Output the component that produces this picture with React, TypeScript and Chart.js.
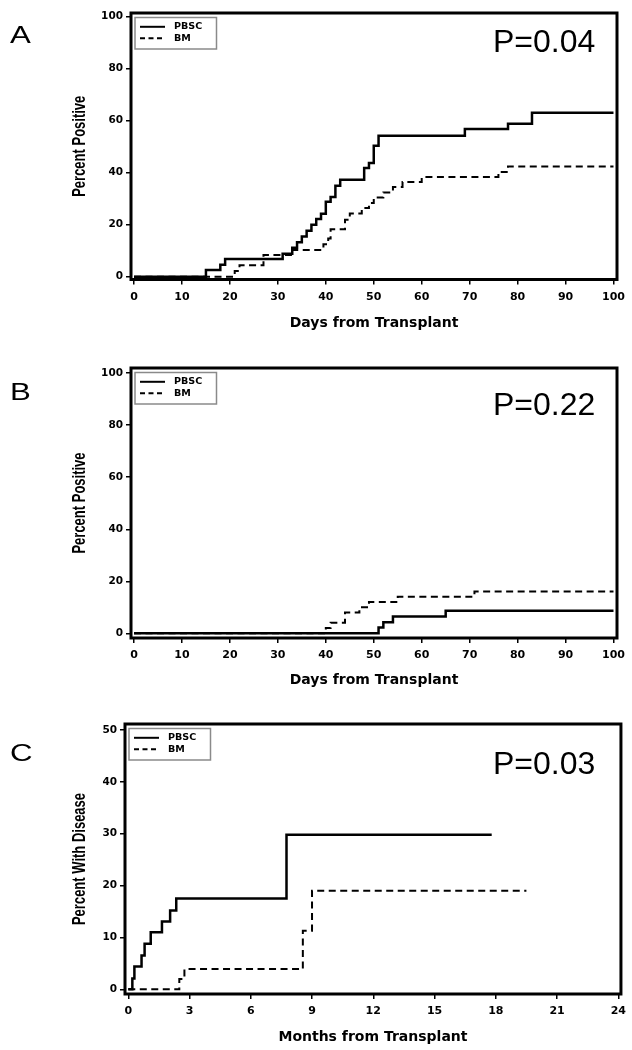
import React, { useEffect, useRef } from "react";
import { Chart, registerables } from "chart.js";

Chart.register(...registerables);

// ---------- Data ----------
// Panel A
const aPbscDays = [0, 15, 18, 19, 31, 33, 34, 35, 36, 37, 38, 39, 40, 41, 42, 43, 48, 49, 50, 51, 69, 78, 83, 100];
const aPbscPct = [0, 2.6, 4.6, 6.8, 8.8, 11.1, 13.2, 15.5, 17.7, 20, 22.2, 24.2, 28.8, 30.6, 35, 37.3, 41.8, 43.7, 50.4, 54.2, 56.8, 58.8, 63, 63];
const aBmDays = [0, 21, 22, 27, 33, 39.5, 40.5, 41, 44, 45, 47.5, 49, 50, 52, 54, 56, 60, 76, 78, 100];
const aBmPct = [0, 2.2, 4.4, 8.3, 10.3, 12.5, 14.7, 18.2, 21.9, 24.3, 26.4, 28.3, 30.5, 32.4, 34.5, 36.4, 38.3, 40.3, 42.4, 42.4];

// Panel B
const bPbscDays = [0, 51, 52, 54, 65, 100];
const bPbscPct = [0, 2.2, 4.3, 6.5, 8.7, 8.7];
const bBmDays = [0, 40, 41, 44, 47, 49, 55, 71, 100];
const bBmPct = [0, 2.0, 4.1, 8.0, 10.0, 12.0, 14.1, 16.1, 16.1];

// Panel C
const cPbscMonths = [0, 0.2, 0.3, 0.65, 0.8, 1.1, 1.65, 2.05, 2.35, 7.75, 17.8];
const cPbscPct = [0, 2.1, 4.4, 6.5, 8.8, 11.0, 13.1, 15.2, 17.5, 29.8, 29.8];
const cBmMonths = [0, 2.5, 2.75, 8.55, 9.0, 19.5];
const cBmPct = [0, 2.0, 3.9, 11.3, 19.0, 19.0];

// Tick labels
const dayTicks = [0, 10, 20, 30, 40, 50, 60, 70, 80, 90, 100];
const monthTicks = [0, 3, 6, 9, 12, 15, 18, 21, 24];
const pct100Ticks = [0, 20, 40, 60, 80, 100];
const pct50Ticks = [0, 10, 20, 30, 40, 50];

const seriesNames = ["PBSC", "BM"];

// ---------- Layout ----------
const W = 632;

type PanelDef = {
  letter: string;
  pLabel: string;
  top: number;
  height: number;
  area: { left: number; right: number; top: number; bottom: number };
  xMin: number;
  xMax: number;
  yMin: number;
  yMax: number;
  xTicks: number[];
  yTicks: number[];
  xTitle: string;
  yTitle: string;
  xTitleY: number;
  yTitleX: number;
  letterY: number;
  pY: number;
  pbsc: [number[], number[]];
  bm: [number[], number[]];
};

const panels: PanelDef[] = [
  {
    letter: "A",
    pLabel: "P=0.04",
    top: 0,
    height: 345,
    area: { left: 131, right: 617, top: 13, bottom: 279.5 },
    xMin: -0.63,
    xMax: 100.73,
    yMin: -1.08,
    yMax: 101.4,
    xTicks: dayTicks,
    yTicks: pct100Ticks,
    xTitle: "Days from Transplant",
    yTitle: "Percent Positive",
    xTitleY: 323,
    yTitleX: 80,
    letterY: 42.5,
    pY: 52,
    pbsc: [aPbscDays, aPbscPct],
    bm: [aBmDays, aBmPct],
  },
  {
    letter: "B",
    pLabel: "P=0.22",
    top: 355,
    height: 345,
    area: { left: 131, right: 617, top: 368, bottom: 638 },
    xMin: -0.63,
    xMax: 100.73,
    yMin: -1.8,
    yMax: 102,
    xTicks: dayTicks,
    yTicks: pct100Ticks,
    xTitle: "Days from Transplant",
    yTitle: "Percent Positive",
    xTitleY: 680,
    yTitleX: 80,
    letterY: 400,
    pY: 415,
    pbsc: [bPbscDays, bPbscPct],
    bm: [bBmDays, bBmPct],
  },
  {
    letter: "C",
    pLabel: "P=0.03",
    top: 711,
    height: 339,
    area: { left: 125, right: 621, top: 724, bottom: 994 },
    xMin: -0.16,
    xMax: 24.13,
    yMin: -0.9,
    yMax: 51.16,
    xTicks: monthTicks,
    yTicks: pct50Ticks,
    xTitle: "Months from Transplant",
    yTitle: "Percent With Disease",
    xTitleY: 1037,
    yTitleX: 80,
    letterY: 761,
    pY: 773.5,
    pbsc: [cPbscMonths, cPbscPct],
    bm: [cBmMonths, cBmPct],
  },
];

function toPoints(xs: number[], ys: number[]) {
  return xs.map((x, i) => ({ x, y: ys[i] }));
}

function drawStretched(
  ctx: CanvasRenderingContext2D,
  text: string,
  x: number,
  y: number,
  font: string,
  sx: number,
  align: CanvasTextAlign,
  baseline: CanvasTextBaseline
) {
  ctx.save();
  ctx.translate(x, y);
  ctx.scale(sx, 1);
  ctx.font = font;
  ctx.fillStyle = "#000";
  ctx.textAlign = align;
  ctx.textBaseline = baseline;
  ctx.fillText(text, 0, 0);
  ctx.restore();
}

function PanelChart({ def }: { def: PanelDef }) {
  const ref = useRef<HTMLCanvasElement | null>(null);

  useEffect(() => {
    const canvas = ref.current;
    if (!canvas) return;
    const t0 = def.top;
    const areaTop = def.area.top - t0;
    const areaBottom = def.area.bottom - t0;

    const decor = {
      id: "decor" + def.letter,
      afterDraw(chart: any) {
        const ctx: CanvasRenderingContext2D = chart.ctx;
        const ca = chart.chartArea;
        ctx.save();
        // frame
        ctx.strokeStyle = "#000";
        ctx.lineWidth = 3;
        ctx.setLineDash([]);
        ctx.strokeRect(ca.left, ca.top, ca.right - ca.left, ca.bottom - ca.top);

        // legend box
        const bx = ca.left + 4;
        const by = ca.top + 4.5;
        const bw = 81.5;
        const bh = 31.5;
        ctx.fillStyle = "#fff";
        ctx.fillRect(bx, by, bw, bh);
        ctx.strokeStyle = "#8a8a8a";
        ctx.lineWidth = 1.5;
        ctx.strokeRect(bx, by, bw, bh);
        const rows = [by + 9.3, by + 20.8];
        const dashes = [[], [5, 3.5]];
        rows.forEach((ry, i) => {
          ctx.beginPath();
          ctx.strokeStyle = "#000";
          ctx.lineWidth = 2;
          ctx.setLineDash(dashes[i] as number[]);
          ctx.moveTo(bx + 5, ry);
          ctx.lineTo(bx + 30, ry);
          ctx.stroke();
          ctx.setLineDash([]);
          drawStretched(ctx, seriesNames[i], bx + 39, ry + 0.5, "bold 8px 'DejaVu Sans'", 1.2, "left", "middle");
        });

        // axis titles
        drawStretched(
          ctx,
          def.xTitle,
          (ca.left + ca.right) / 2,
          def.xTitleY - t0,
          "bold 14px 'DejaVu Sans'",
          1,
          "center",
          "middle"
        );
        ctx.save();
        ctx.translate(def.yTitleX, (ca.top + ca.bottom) / 2);
        ctx.rotate(-Math.PI / 2);
        ctx.scale(1, 1.35);
        ctx.font = "bold 13px 'Liberation Sans', Arial, sans-serif";
        ctx.fillStyle = "#000";
        ctx.textAlign = "center";
        ctx.textBaseline = "middle";
        ctx.fillText(def.yTitle, 0, 0);
        ctx.restore();

        // panel letter
        drawStretched(ctx, def.letter, 10, def.letterY - t0, "24px 'Liberation Sans', Arial, sans-serif", 1.3, "left", "alphabetic");
        // p-value
        drawStretched(ctx, def.pLabel, 493, def.pY - t0, "32px 'Liberation Sans', Arial, sans-serif", 1, "left", "alphabetic");
        ctx.restore();
      },
    };

    const chart = new Chart(canvas, {
      type: "line",
      data: {
        datasets: [
          {
            label: seriesNames[0],
            data: toPoints(def.pbsc[0], def.pbsc[1]),
            borderColor: "#000",
            borderWidth: 2.5,
            stepped: true,
            pointRadius: 0,
            fill: false,
          },
          {
            label: seriesNames[1],
            data: toPoints(def.bm[0], def.bm[1]),
            borderColor: "#000",
            borderWidth: 2,
            borderDash: [7, 4.5],
            stepped: true,
            pointRadius: 0,
            fill: false,
          },
        ],
      },
      options: {
        responsive: false,
        animation: false,
        devicePixelRatio: 1,
        layout: {
          padding: { top: areaTop, right: W - def.area.right, left: 0, bottom: 0 },
        },
        plugins: {
          legend: { display: false },
          tooltip: { enabled: false },
        },
        scales: {
          x: {
            type: "linear",
            min: def.xMin,
            max: def.xMax,
            afterBuildTicks: (s: any) => {
              s.ticks = def.xTicks.map((v) => ({ value: v }));
            },
            afterFit: (s: any) => {
              s.height = def.height - areaBottom;
            },
            ticks: {
              autoSkip: false,
              maxRotation: 0,
              padding: 6,
              color: "#000",
              font: { family: "'DejaVu Sans'", weight: "bold", size: 11 },
            },
            grid: {
              drawOnChartArea: false,
              drawTicks: true,
              tickLength: 5,
              color: "#000",
              lineWidth: 1.5,
            },
            border: { display: false },
          },
          y: {
            type: "linear",
            min: def.yMin,
            max: def.yMax,
            afterBuildTicks: (s: any) => {
              s.ticks = def.yTicks.map((v) => ({ value: v }));
            },
            afterFit: (s: any) => {
              s.width = def.area.left;
            },
            ticks: {
              autoSkip: false,
              padding: 3,
              color: "#000",
              font: { family: "'DejaVu Sans'", weight: "bold", size: 10.5 },
            },
            grid: {
              drawOnChartArea: false,
              drawTicks: true,
              tickLength: 5,
              color: "#000",
              lineWidth: 1.5,
            },
            border: { display: false },
          },
        },
      },
      plugins: [decor],
    } as any);

    return () => chart.destroy();
  }, [def]);

  return (
    <canvas
      ref={ref}
      width={W}
      height={def.height}
      style={{ position: "absolute", left: 0, top: def.top, width: W, height: def.height, display: "block" }}
    />
  );
}

export default function App() {
  return (
    <div style={{ position: "absolute", left: 0, top: 0, width: W, height: 1050, background: "#fff", overflow: "hidden" }}>
      {panels.map((p) => (
        <PanelChart key={p.letter} def={p} />
      ))}
    </div>
  );
}
